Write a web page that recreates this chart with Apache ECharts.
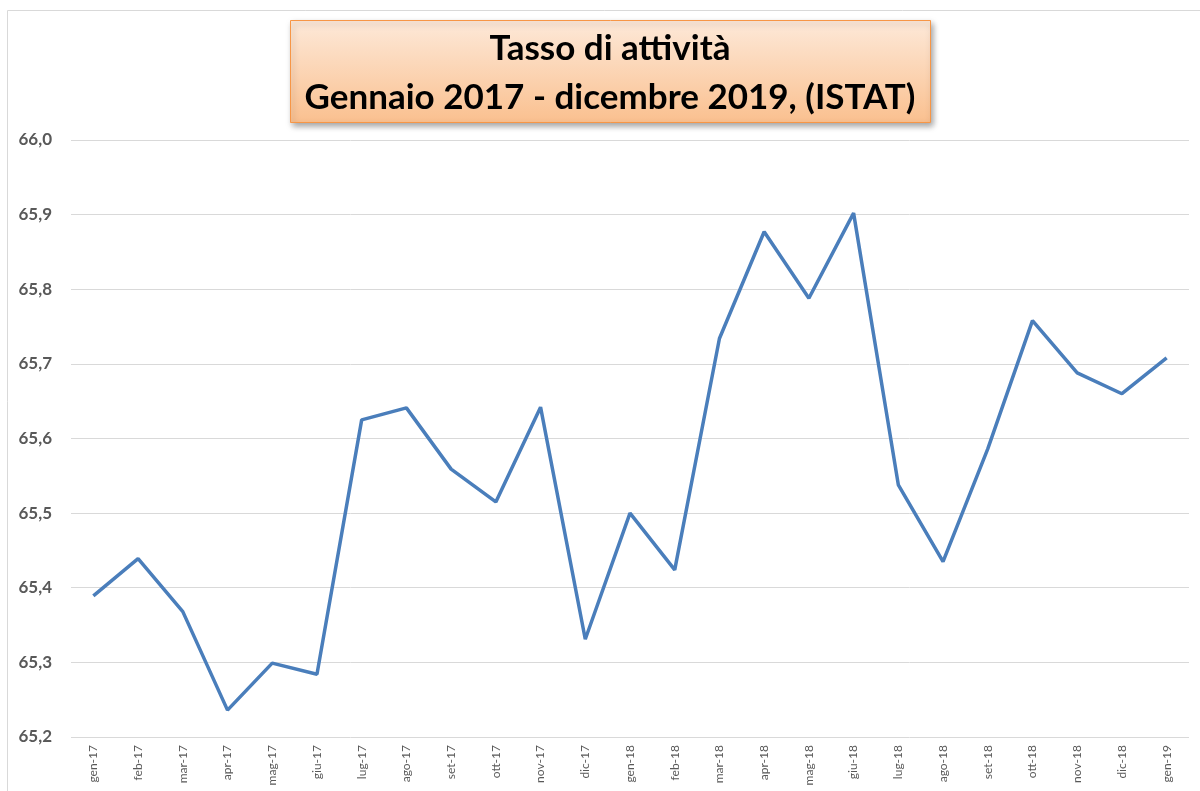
<!DOCTYPE html>
<html>
<head>
<meta charset="utf-8">
<title>Tasso di attività</title>
<script src="https://cdn.jsdelivr.net/npm/echarts@6/dist/echarts.min.js"></script>
<style>
  html, body { margin: 0; padding: 0; background: #fff; }
  #chart { width: 1200px; height: 791px; }
</style>
</head>
<body>
<div id="chart"></div>
<script>
// mesi (asse x)
var mesi = ['gen-17','feb-17','mar-17','apr-17','mag-17','giu-17','lug-17','ago-17','set-17','ott-17','nov-17','dic-17',
            'gen-18','feb-18','mar-18','apr-18','mag-18','giu-18','lug-18','ago-18','set-18','ott-18','nov-18','dic-18',
            'gen-19'];
// tasso di attività (%)
var tasso = [65.389, 65.439, 65.368, 65.236, 65.299, 65.284, 65.625, 65.641, 65.559, 65.515, 65.642, 65.331,
             65.500, 65.424, 65.734, 65.877, 65.788, 65.902, 65.538, 65.435, 65.586, 65.758, 65.688, 65.660,
             65.708];
var yMin = 65.2, yMax = 66.0, yStep = 0.1;
var titolo = 'Tasso di attività\nGennaio 2017 - dicembre 2019, (ISTAT)';

var myChart = echarts.init(document.getElementById('chart'));
var option = {
    animation: false,
    grid: {
        left: 71,
        right: 11,
        top: 140,
        bottom: 54,
        containLabel: false
    },
    graphic: [
        {
            // cornice esterna del grafico
            type: 'rect',
            silent: true,
            z: -1,
            shape: { x: 7.5, y: 10.5, width: 1400, height: 1000 },
            style: { fill: 'none', stroke: '#d9d9d9', lineWidth: 1 }
        },
        {
            // riquadro titolo
            type: 'rect',
            silent: true,
            shape: { x: 290.5, y: 20.5, width: 640, height: 102 },
            style: {
                fill: new echarts.graphic.LinearGradient(0, 0, 0, 1, [
                    { offset: 0, color: '#fde9d9' },
                    { offset: 1, color: '#fac08f' }
                ]),
                stroke: '#f79646',
                lineWidth: 1,
                shadowBlur: 6,
                shadowOffsetX: 2,
                shadowOffsetY: 3,
                shadowColor: 'rgba(0,0,0,0.35)'
            }
        },
        {
            type: 'text',
            silent: true,
            x: 610,
            y: 73,
            style: {
                text: titolo,
                fill: '#000',
                font: 'bold 35px Lato, "Open Sans", sans-serif',
                lineHeight: 49,
                align: 'center',
                verticalAlign: 'middle'
            }
        }
    ],
    xAxis: {
        type: 'category',
        boundaryGap: true,
        data: mesi,
        axisLine: { show: false },
        axisTick: { show: false },
        axisLabel: {
            rotate: 90,
            interval: 0,
            margin: 8,
            color: '#595959',
            fontSize: 12,
            fontFamily: 'Lato, sans-serif'
        }
    },
    yAxis: {
        type: 'value',
        min: yMin,
        max: yMax,
        interval: yStep,
        axisLine: { show: false },
        axisTick: { show: false },
        splitLine: { lineStyle: { color: '#d9d9d9', width: 1 } },
        axisLabel: {
            margin: 19,
            color: '#595959',
            fontSize: 17,
            fontWeight: 'bold',
            fontFamily: 'Lato, sans-serif',
            formatter: function (v) { return v.toFixed(1).replace('.', ','); }
        }
    },
    series: [
        {
            name: 'Tasso di attività',
            type: 'line',
            data: tasso,
            symbol: 'none',
            lineStyle: { color: '#4a7ebb', width: 3.5 },
            itemStyle: { color: '#4a7ebb' }
        }
    ]
};
myChart.setOption(option);
</script>
</body>
</html>
